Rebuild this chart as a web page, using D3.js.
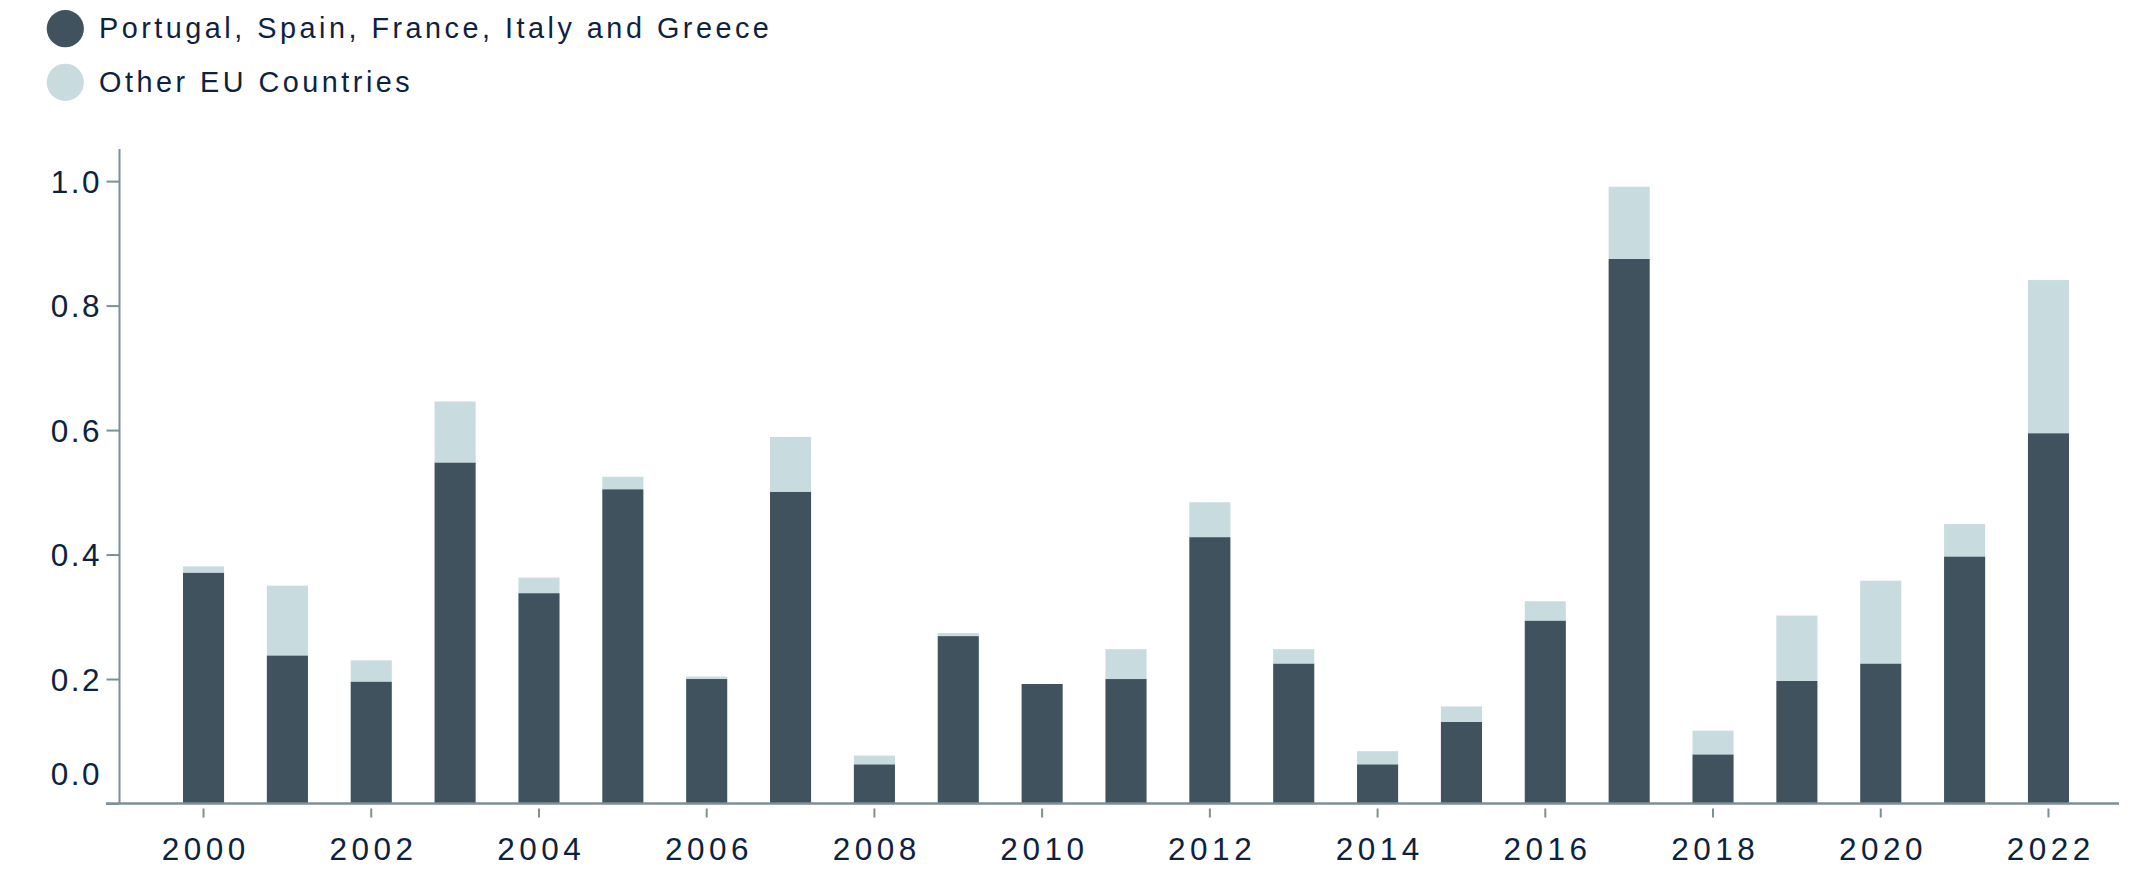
<!DOCTYPE html>
<html>
<head>
<meta charset="utf-8">
<script src="https://cdn.jsdelivr.net/npm/d3@7"></script>
<style>
  html, body { margin: 0; padding: 0; background: #ffffff; }
  svg { display: block; }
  text { font-family: "Liberation Sans", Arial, Helvetica, sans-serif; fill: #0e2240; }
</style>
</head>
<body>
<svg id="chart" width="2137" height="872"></svg>
<script>
// ---- data ----
const years = [2000, 2001, 2002, 2003, 2004, 2005, 2006, 2007, 2008, 2009, 2010, 2011,
               2012, 2013, 2014, 2015, 2016, 2017, 2018, 2019, 2020, 2021, 2022];
const southEU = [0.371, 0.238, 0.196, 0.548, 0.338, 0.505, 0.200, 0.501, 0.063, 0.269, 0.192, 0.200,
                 0.428, 0.225, 0.063, 0.131, 0.294, 0.875, 0.079, 0.197, 0.225, 0.397, 0.595];
const otherEU = [0.010, 0.112, 0.034, 0.098, 0.025, 0.020, 0.004, 0.088, 0.014, 0.005, 0.000, 0.048,
                 0.056, 0.023, 0.021, 0.025, 0.031, 0.116, 0.038, 0.105, 0.133, 0.052, 0.246];
const seriesNames = ["Portugal, Spain, France, Italy and Greece", "Other EU Countries"];
const seriesColors = ["#3f525e", "#c8dbdf"];
const yTicks = [0, 0.2, 0.4, 0.6, 0.8, 1.0];
const xTickYears = [2000, 2002, 2004, 2006, 2008, 2010, 2012, 2014, 2016, 2018, 2020, 2022];

// ---- layout ----
const axisColor = "#7d8f97";
const textColor = "#0e2240";
const xLS = 4.5;   // letter spacing of x labels
const yLS = 2.5;   // letter spacing of y labels
const svg = d3.select("#chart");

const table = years.map((y, i) => ({ year: y, south: southEU[i], other: otherEU[i] }));
const stack = d3.stack().keys(["south", "other"]);
const layers = stack(table);

const x = d3.scaleBand()
  .domain(years)
  .range([119.5, 2132.5])
  .paddingInner(0.51)
  .paddingOuter(0.757);

const y = d3.scaleLinear()
  .domain([0, 1.05])
  .range([803.5, 150]);

// bars
svg.append("g")
  .selectAll("g")
  .data(layers)
  .join("g")
  .attr("fill", (d, i) => seriesColors[i])
  .selectAll("rect")
  .data(d => d)
  .join("rect")
  .attr("x", d => x(d.data.year))
  .attr("width", x.bandwidth())
  .attr("y", d => y(d[1]))
  .attr("height", d => Math.max(0, y(d[0]) - y(d[1])));

// y axis
const yAxis = d3.axisLeft(y)
  .tickValues(yTicks)
  .tickFormat(d3.format(".1f"))
  .tickSize(13)
  .tickPadding(4.5);

const gy = svg.append("g")
  .attr("transform", "translate(119.5,0)")
  .call(yAxis);
gy.select(".domain").attr("stroke", axisColor).attr("stroke-width", 2)
  .attr("d", `M0,${y.range()[1] - 1}V${y(0)}`);
gy.selectAll(".tick line").attr("stroke", axisColor).attr("stroke-width", 2);
gy.selectAll(".tick text")
  .attr("font-size", 31.5)
  .attr("fill", textColor)
  .attr("font-family", "'Liberation Sans', Arial, Helvetica, sans-serif")
  .attr("letter-spacing", yLS + "px")
  .attr("dy", d => d === 0 ? "-0.6em" : "0.36em");

// x axis
const xAxis = d3.axisBottom(x)
  .tickValues(xTickYears)
  .tickSize(0)
  .tickPadding(0);

const gx = svg.append("g")
  .attr("transform", `translate(0,${y(0)})`)
  .call(xAxis);
gx.select(".domain").remove();
gx.append("line")
  .attr("x1", 106).attr("x2", 2119)
  .attr("y1", 0).attr("y2", 0)
  .attr("stroke", axisColor).attr("stroke-width", 2.5);
gx.selectAll(".tick").append("line")
  .attr("y1", 5).attr("y2", 14)
  .attr("stroke", axisColor).attr("stroke-width", 2);
gx.selectAll(".tick text")
  .attr("y", 0)
  .attr("dy", 0)
  .attr("dx", xLS / 2)
  .attr("transform", "translate(0,56.5)")
  .attr("font-size", 31.5)
  .attr("fill", textColor)
  .attr("font-family", "'Liberation Sans', Arial, Helvetica, sans-serif")
  .attr("letter-spacing", xLS + "px");

// legend
const legend = svg.append("g");
seriesNames.forEach((name, i) => {
  const cy = 28.7 + i * 53.6;
  legend.append("circle")
    .attr("cx", 65.3).attr("cy", cy).attr("r", 18.6)
    .attr("fill", seriesColors[i]);
  legend.append("text")
    .attr("x", 99).attr("y", cy + 9.2)
    .attr("font-size", 28.8)
    .attr("letter-spacing", "3.5px")
    .text(name);
});
</script>
</body>
</html>
